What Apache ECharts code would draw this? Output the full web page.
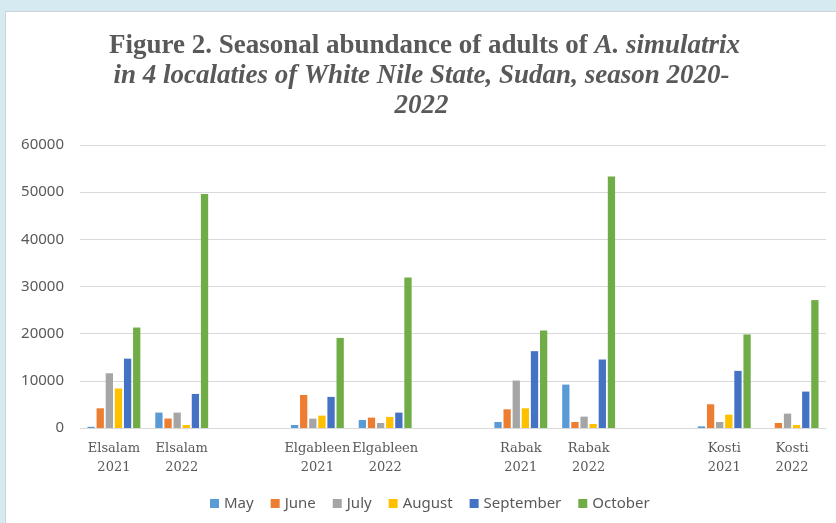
<!DOCTYPE html>
<html>
<head>
<meta charset="utf-8">
<script src="https://cdn.jsdelivr.net/npm/echarts@6/dist/echarts.min.js"></script>
<style>
  html, body { margin: 0; padding: 0; background: #d6ebf1; width: 836px; height: 523px; overflow: hidden; }
  #frame { position: absolute; left: 5px; top: 11px; width: 831px; height: 512px; background: #fff; border-left: 1px solid #c9d3d8; border-top: 1px solid #c9d3d8; }
  #chart { width: 831px; height: 512px; }
</style>
</head>
<body>
<div id="frame"><div id="chart"></div></div>
<script>
// categories (empty slots give the gaps between localities)
const categories = [
  'Elsalam\n2021', 'Elsalam\n2022', '',
  'Elgableen\n2021', 'Elgableen\n2022', '',
  'Rabak\n2021', 'Rabak\n2022', '',
  'Kosti\n2021', 'Kosti\n2022'
]
const months = ['May', 'June', 'July', 'August', 'September', 'October']
const monthColors = ['#5b9bd5', '#ed7d31', '#a5a5a5', '#ffc000', '#4472c4', '#70ad47']

// values, null = empty slot
const may       = [250,   3270,  null, 640,   1700,  null, 1270,  9200,  null, 350,   0]
const june      = [4180,  2000,  null, 7000,  2200,  null, 3960,  1270,  null, 5030,  1060]
const july      = [11600, 3270,  null, 1980,  1060,  null, 10060, 2410,  null, 1270,  3050]
const august    = [8370,  640,   null, 2620,  2340,  null, 4180,  850,   null, 2830,  640]
const september = [14700, 7220,  null, 6590,  3260,  null, 16290, 14520, null, 12110, 7720]
const october   = [21300, 49600, null, 19100, 31900, null, 20680, 53330, null, 19830, 27120]

const seriesData = [may, june, july, august, september, october]

const myChart = echarts.init(document.getElementById('chart'))

const option = {
  animation: false,
  title: {
    left: 'center',
    top: 14,
    text: '{b|Figure 2. Seasonal abundance of adults of }{bi|A. simulatrix}\n{bi|in 4 localaties of White Nile State, Sudan, season 2020-}\n{bi|2022}',
    textStyle: {
      rich: {
        b: { fontFamily: 'Liberation Serif', fontWeight: 'bold', fontSize: 27, color: '#595959', lineHeight: 30, padding: [0, 0, 0, 6] },
        bi: { fontFamily: 'Liberation Serif', fontWeight: 'bold', fontStyle: 'italic', fontSize: 27, color: '#595959', lineHeight: 30 }
      }
    }
  },
  legend: {
    bottom: 8,
    left: 199,
    itemWidth: 9,
    itemHeight: 9,
    itemGap: 17,
    icon: 'rect',
    textStyle: { fontFamily: 'Noto Sans', fontSize: 15, color: '#595959' },
    data: months
  },
  grid: {
    left: 74,
    right: 11,
    top: 133,
    bottom: 96,
    containLabel: false
  },
  xAxis: {
    type: 'category',
    data: categories,
    axisLine: { show: true, lineStyle: { color: '#d9d9d9', width: 1 } },
    axisTick: { show: false },
    axisLabel: {
      interval: 0,
      margin: 11,
      fontFamily: 'DejaVu Serif',
      fontSize: 13,
      lineHeight: 19,
      color: '#595959'
    }
  },
  yAxis: {
    type: 'value',
    min: 0,
    max: 60000,
    interval: 10000,
    axisLine: { show: false },
    axisTick: { show: false },
    splitLine: { lineStyle: { color: '#d9d9d9', width: 1 } },
    axisLabel: {
      margin: 16,
      fontFamily: 'Noto Sans',
      fontSize: 15,
      color: '#595959',
      formatter: (v) => String(v)
    }
  },
  series: months.map((name, i) => ({
    name,
    type: 'bar',
    data: seriesData[i],
    barGap: '25%',
    barCategoryGap: '22%',
    itemStyle: { color: monthColors[i] }
  }))
}

myChart.setOption(option)
</script>
</body>
</html>
